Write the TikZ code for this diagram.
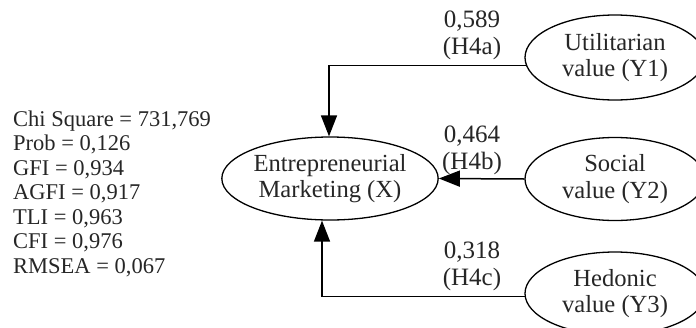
\documentclass[tikz,border=0pt]{standalone}
\usepackage{fontspec}
\setmainfont{Liberation Serif}
\usetikzlibrary{shapes.geometric,arrows.meta}
\begin{document}
\begin{tikzpicture}[x=1pt,y=-1pt,
  construct/.style={ellipse,draw,line width=1.3pt,inner sep=0pt,
    align=center,font=\fontsize{24.6}{26.7}\selectfont,text=black!85},
  path/.style={line width=1.5pt,-{Triangle[length=21pt,width=16pt]}},
  coef/.style={align=center,font=\fontsize{25}{27}\selectfont,text=black!85},
  fit/.style={align=left,font=\fontsize{22.5}{24.5}\selectfont,text=black!85}]
\clip (0,0) rectangle (696,327);

% latent constructs
\node[construct,minimum width=216pt,minimum height=83pt] (em) at (330,178.5)
  {Entrepreneurial\\Marketing (X)};
\node[construct,minimum width=180pt,minimum height=85pt] (y1) at (615,57.5)
  {Utilitarian\\value (Y1)};
\node[construct,minimum width=180pt,minimum height=83pt] (y2) at (615,179)
  {Social\\value (Y2)};
\node[construct,minimum width=180pt,minimum height=83pt] (y3) at (615,293.5)
  {Hedonic\\value (Y3)};

% structural paths
\draw[path] (y1.185) -| ([xshift=-1pt]em.north);
\draw[path] (y2.west) -- (em.east);
\draw[path] (y3.182) -| ([xshift=-8pt]em.south);

% path coefficients
\node[coef] (c1) at (472,35.5) {0,589\\(H4a)};
\node[coef] (c2) at (472,150) {0,464\\(H4b)};
\node[coef] (c3) at (472,266.5) {0,318\\(H4c)};

% goodness-of-fit indices
\node[fit,anchor=west,inner sep=0pt] (gof) at (13,193.5)
  {Chi Square = 731,769\\Prob = 0,126\\GFI = 0,934\\AGFI = 0,917\\TLI = 0,963\\CFI = 0,976\\RMSEA = 0,067};
\end{tikzpicture}
\end{document}
